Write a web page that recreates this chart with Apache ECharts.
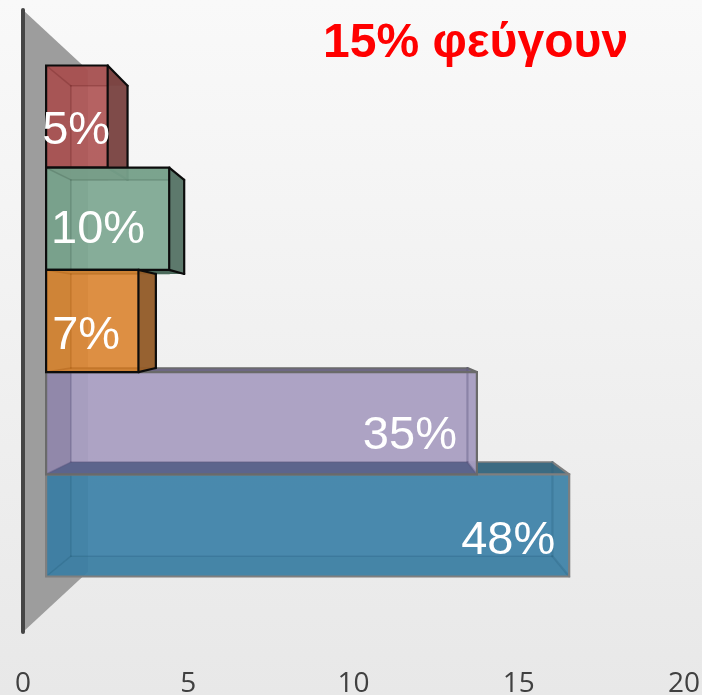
<!DOCTYPE html>
<html><head><meta charset="utf-8">
<style>html,body{margin:0;padding:0;background:#f2f2f2}#c{width:702px;height:695px}</style>
<script src="https://cdn.jsdelivr.net/npm/echarts@6/dist/echarts.min.js"></script>
</head><body><div id="c"></div>
<script>
// data (bottom to top)
const barValues = [17, 14, 3, 4, 2];
const barLabels = ['48%', '35%', '7%', '10%', '5%'];
const titleText = '15% φεύγουν';
const axisMin = 0, axisMax = 20, axisStep = 5;

// styles
const paint = [
  {front:'rgba(62,131,168,0.90)', back:'rgba(60,120,155,0.35)', top:'rgba(58,106,128,0.96)', bottom:'rgba(50,115,150,0.35)', left:'rgba(50,110,145,0.35)', right:'rgba(58,106,128,0.3)', edge:'#7f7f7f', inner:'rgba(40,95,125,0.3)', shade:'rgba(30,90,125,0.10)', over:'rgba(40,100,130,0.10)'},
  {front:'rgba(168,158,194,0.90)', back:'rgba(150,140,175,0.35)', top:'rgba(110,105,130,0.9)', bottom:'rgba(60,80,130,0.5)', left:'rgba(120,110,150,0.4)', right:'rgba(130,120,160,0.5)', edge:'#6a6a6a', inner:'rgba(90,85,125,0.4)', shade:'rgba(80,70,110,0.24)', over:'rgba(67,80,122,0.72)'},
  {front:'rgba(220,136,54,0.90)', back:'rgba(200,120,40,0.3)', top:'rgba(200,120,40,0.4)', bottom:'rgba(190,110,35,0.4)', left:'rgba(180,105,30,0.3)', right:'rgba(146,92,42,0.95)', edge:'#0c0c0c', inner:'rgba(170,95,20,0.35)', shade:'rgba(150,85,20,0.10)', over:'rgba(180,105,30,0.18)'},
  {front:'rgba(126,168,146,0.90)', back:'rgba(110,150,130,0.3)', top:'rgba(100,140,120,0.55)', bottom:'rgba(70,100,85,0.95)', left:'rgba(90,130,110,0.3)', right:'rgba(86,116,102,0.95)', edge:'#0c0c0c', inner:'rgba(80,115,98,0.4)', shade:'rgba(70,105,88,0.10)', over:'rgba(70,105,88,0.25)'},
  {front:'rgba(176,88,88,0.90)', back:'rgba(150,70,70,0.3)', top:'rgba(140,60,60,0.5)', bottom:'rgba(120,60,60,0.5)', left:'rgba(140,60,60,0.3)', right:'rgba(122,68,66,0.95)', edge:'#0c0c0c', inner:'rgba(120,45,45,0.4)', shade:'rgba(110,40,40,0.10)', over:'rgba(120,45,45,0.22)'}
];
// label centre: dx from the bar's right end (tall values) or left end (short values), dy from bar centre
const labelOffset = [[-61, 14], [-67, 11], [40, 13], [52, 9], [30, 12]];
const labelFromRight = [true, true, false, false, false];
const drawOrder = [0, 1, 4, 3, 2];
const vx = 358, vy = 321, frontScale = 0.931, backScale = 0.857, wallScale = 0.806;
const yMin = -1 / 3, yMax = 5 + 1 / 3;

const persp = (p, s) => [vx + (p[0] - vx) * s, vy + (p[1] - vy) * s];

function renderWall(params, api) {
  const a = api.coord([axisMin, yMax]), b = api.coord([axisMin, yMin]);
  const a2 = persp(a, wallScale), b2 = persp(b, wallScale);
  return {type: 'group', children: [
    {type: 'polygon', shape: {points: [a, a2, b2, b]}, style: {fill: '#9d9d9d'}},
    {type: 'line', shape: {x1: a[0], y1: a[1], x2: b[0], y2: b[1]}, style: {stroke: '#454545', lineWidth: 4, lineCap: 'round'}}
  ]};
}

function renderBar(params, api) {
  const i = api.value(1), v = api.value(0), c = paint[i];
  const p0 = api.coord([axisMin, i + 1]), p1 = api.coord([v, i]);
  const f = [persp(p0, frontScale), persp(p1, frontScale)];
  const b = [persp(p0, backScale), persp(p1, backScale)];
  const fl = f[0][0], ft = f[0][1], fr = f[1][0], fb = f[1][1];
  const bl = b[0][0], bt = b[0][1], br = b[1][0], bb = b[1][1];
  const poly = (pts, fill) => ({type: 'polygon', shape: {points: pts}, style: {fill}});
  const seg = (x1, y1, x2, y2, stroke, w) => ({type: 'line', shape: {x1, y1, x2, y2}, style: {stroke, lineWidth: w, lineCap: 'round'}});
  const off = labelOffset[i];
  const labelX = (labelFromRight[i] ? fr : fl) + off[0];
  const inside = fr > vx; // the far right end lies behind the front face
  const sideEdge = inside ? c.inner : c.edge;
  return {type: 'group', children: [
    poly([[bl, bt], [br, bt], [br, bb], [bl, bb]], c.back),
    poly([[fl, ft], [bl, bt], [bl, bb], [fl, fb]], c.left),
    poly([[fl, ft], [fr, ft], [br, bt], [bl, bt]], c.top),
    poly([[fl, fb], [fr, fb], [br, bb], [bl, bb]], c.bottom),
    poly([[fr, ft], [br, bt], [br, bb], [fr, fb]], c.right),
    poly([[fl, ft], [fr, ft], [fr, fb], [fl, fb]], c.front),
    // faces seen through the translucent front
    poly([[fl, ft], [bl, bt], [bl, bb], [fl, fb]], c.shade),
    poly([[fl, fb], [fr, fb], [br, bb], [bl, bb]], c.over),
    poly([[fl, ft], [fr, ft], [br, bt], [bl, bt]], c.shade),
    seg(bl, bt, Math.min(br, fr), bt, inside ? c.edge : c.inner, 1.5),
    seg(bl, bt, bl, bb, c.inner, 1.5), seg(bl, bb, Math.min(br, fr), bb, c.inner, 1.5),
    seg(fl, ft, bl, bt, c.inner, 1.5), seg(fl, fb, bl, bb, c.inner, 1.5),
    seg(fr, ft, br, bt, c.edge, 2.2), seg(br, bt, br, bb, sideEdge, 2.2), seg(br, bb, fr, fb, sideEdge, 2.2),
    {type: 'rect', shape: {x: fl, y: ft, width: fr - fl, height: fb - ft}, style: {fill: 'none', stroke: c.edge, lineWidth: 2.2}},
    {type: 'text', style: {
      x: labelX, y: (ft + fb) / 2 + off[1] + 2, text: barLabels[i], fill: '#fff',
      font: '47px "Liberation Sans", Arial, sans-serif', align: 'center', verticalAlign: 'middle'
    }}
  ]};
}

const chart = echarts.init(document.getElementById('c'), null, {renderer: 'canvas'});
chart.setOption({
  animation: false,
  backgroundColor: {type: 'linear', x: 0, y: 0, x2: 0, y2: 1, colorStops: [{offset: 0, color: '#f9f9f9'}, {offset: 1, color: '#e8e8e8'}]},
  title: {text: titleText, left: 318, top: 15, textStyle: {color: '#ff0000', fontFamily: '"Liberation Sans", Arial, sans-serif', fontWeight: 'bold', fontSize: 48}},
  grid: {left: 23, top: 10, width: 661, height: 622, outerBoundsMode: 'none'},
  xAxis: {type: 'value', min: axisMin, max: axisMax, interval: axisStep,
    axisLine: {show: false}, axisTick: {show: false}, splitLine: {show: false},
    axisLabel: {margin: 38, color: '#404040', fontSize: 28, fontFamily: '"Open Sans", sans-serif'}},
  yAxis: {type: 'value', min: yMin, max: yMax, show: false, splitLine: {show: false}},
  series: [
    {type: 'custom', z: 1, clip: false, silent: true, renderItem: renderWall, data: [[0, 0]]},
    {type: 'custom', z: 2, clip: false, silent: true, renderItem: renderBar,
     encode: {x: 0, y: 1}, data: drawOrder.map(i => [barValues[i], i])}
  ]
});
</script></body></html>
